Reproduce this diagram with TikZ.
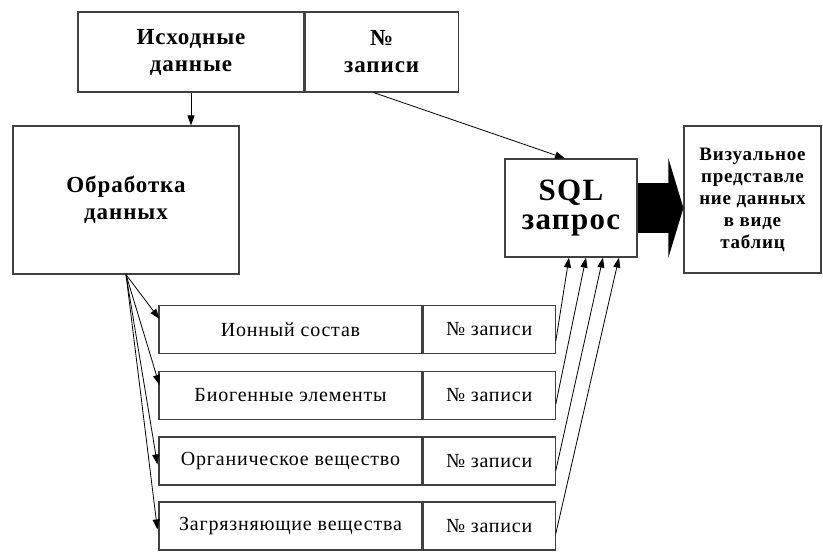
\documentclass[tikz,border=0pt]{standalone}
\usepackage{fontspec}
\setmainfont{Liberation Serif}
\newfontfamily\widefont[LetterSpace=4]{Liberation Serif}
\newfontfamily\cellfont[LetterSpace=4]{Liberation Serif}
\usepackage{tikz}
\usetikzlibrary{arrows.meta,calc}

\tikzset{
  box/.style={draw=black!75, line width=1.2pt, align=center, inner sep=0pt},
  head/.style={box, font=\widefont\bfseries\fontsize{23}{27}\selectfont},
  cell/.style={box, minimum height=48pt, font=\cellfont\fontsize{20}{22}\selectfont},
  link/.style={line width=0.8pt, -{Triangle[length=10pt,width=7pt]}},
}

\begin{document}
\begin{tikzpicture}[x=1pt,y=-1pt]
  \useasboundingbox (0,0) rectangle (823,552);

  % top row
  \node[head, minimum width=226pt, minimum height=80pt] (src) at (191,52) {Исходные\\данные};
  \node[head, minimum width=153pt, minimum height=80pt, anchor=west] (rec) at (src.east) {№\\записи};

  % processing and query
  \node[head, minimum width=226pt, minimum height=148pt] (proc) at (126,200) {Обработка\\данных};
  \node[box, minimum width=132pt, minimum height=98pt, font=\widefont\bfseries\fontsize{31}{29}\selectfont] (sql) at (571,208) {SQL\\запрос};
  \node[box, minimum width=137pt, minimum height=147pt, font=\widefont\bfseries\fontsize{19}{22}\selectfont] (vis) at (752.5,199.5) {Визуальное\\представле\\ние данных\\в виде\\таблиц};

  % tables
  \node[cell, minimum width=263pt] (ion) at (290.5,329.5) {Ионный состав};
  \node[cell, minimum width=132pt, anchor=west] (ionN) at (ion.east) {№ записи};
  \node[cell, minimum width=263pt] (bio) at (290.5,395.5) {Биогенные элементы};
  \node[cell, minimum width=132pt, anchor=west] (bioN) at (bio.east) {№ записи};
  \node[cell, minimum width=263pt] (org) at (290.5,461) {Органическое вещество};
  \node[cell, minimum width=132pt, anchor=west] (orgN) at (org.east) {№ записи};
  \node[cell, minimum width=263pt] (pol) at (290.5,526) {Загрязняющие вещества};
  \node[cell, minimum width=132pt, anchor=west] (polN) at (pol.east) {№ записи};

  % connectors
  \draw[link] (src.south) -- (src.south |- proc.north);
  \draw[link] ($(rec.south)+(-8,0)$) -- ($(sql.north)+(-6,0)$);

  \draw[link] (proc.south) -- ($(ion.north west)+(1,14)$);
  \draw[link] (proc.south) -- ($(bio.north west)+(1,14)$);
  \draw[link] (proc.south) -- ($(org.north west)+(-1,28)$);
  \draw[link] (proc.south) -- ($(pol.north west)+(-1,28)$);

  \draw[link] ($(ionN.south east)+(0,-13)$) -- ($(sql.south)+(-2,0)$);
  \draw[link] ($(bioN.south east)+(0,-16)$) -- ($(sql.south)+(15,0)$);
  \draw[link] ($(orgN.south east)+(0,-15)$) -- ($(sql.south)+(32,0)$);
  \draw[link] ($(polN.south east)+(0,-17)$) -- ($(sql.south)+(48,0)$);

  \draw[line width=50pt, -{Triangle[length=15pt,width=99pt]}] (sql.east) -- (sql.east -| vis.west);
\end{tikzpicture}
\end{document}
